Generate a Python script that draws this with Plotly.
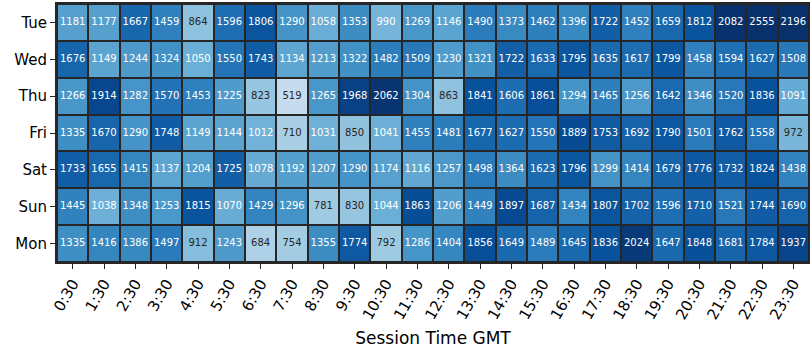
import plotly.graph_objects as go

days = ["Tue", "Wed", "Thu", "Fri", "Sat", "Sun", "Mon"]
times = ["0:30", "1:30", "2:30", "3:30", "4:30", "5:30", "6:30", "7:30", "8:30", "9:30",
         "10:30", "11:30", "12:30", "13:30", "14:30", "15:30", "16:30", "17:30", "18:30",
         "19:30", "20:30", "21:30", "22:30", "23:30"]

tue = [1181, 1177, 1667, 1459, 864, 1596, 1806, 1290, 1058, 1353, 990, 1269, 1146, 1490, 1373, 1462, 1396, 1722, 1452, 1659, 1812, 2082, 2555, 2196]
wed = [1676, 1149, 1244, 1324, 1050, 1550, 1743, 1134, 1213, 1322, 1482, 1509, 1230, 1321, 1722, 1633, 1795, 1635, 1617, 1799, 1458, 1594, 1627, 1508]
thu = [1266, 1914, 1282, 1570, 1453, 1225, 823, 519, 1265, 1968, 2062, 1304, 863, 1841, 1606, 1861, 1294, 1465, 1256, 1642, 1346, 1520, 1836, 1091]
fri = [1335, 1670, 1290, 1748, 1149, 1144, 1012, 710, 1031, 850, 1041, 1455, 1481, 1677, 1627, 1550, 1889, 1753, 1692, 1790, 1501, 1762, 1558, 972]
sat = [1733, 1655, 1415, 1137, 1204, 1725, 1078, 1192, 1207, 1290, 1174, 1116, 1257, 1498, 1364, 1623, 1796, 1299, 1414, 1679, 1776, 1732, 1824, 1438]
sun = [1445, 1038, 1348, 1253, 1815, 1070, 1429, 1296, 781, 830, 1044, 1863, 1206, 1449, 1897, 1687, 1434, 1807, 1702, 1596, 1710, 1521, 1744, 1690]
mon = [1335, 1416, 1386, 1497, 912, 1243, 684, 754, 1355, 1774, 792, 1286, 1404, 1856, 1649, 1489, 1645, 1836, 2024, 1647, 1848, 1681, 1784, 1937]

z = [tue, wed, thu, fri, sat, sun, mon]

blues = ["#f7fbff", "#deebf7", "#c6dbef", "#9ecae1", "#6baed6",
         "#4292c6", "#2171b5", "#08519c", "#08306b"]
colorscale = [[i / 8, c] for i, c in enumerate(blues)]

fig = go.Figure()
fig.add_trace(go.Heatmap(
    z=z, x=times, y=days, colorscale=colorscale, zmin=0, zmax=2100,
    showscale=False, xgap=2, ygap=2, hoverinfo="skip",
))

tx, ty, tt, tc = [], [], [], []
for d, row in zip(days, z):
    for t, v in zip(times, row):
        tx.append(t); ty.append(d); tt.append(str(v))
        tc.append("#262626" if v < 980 else "white")

fig.add_trace(go.Scatter(
    x=tx, y=ty, text=tt, mode="text",
    textfont=dict(family="DejaVu Sans", size=10, color=tc),
    hoverinfo="skip", showlegend=False,
))

fig.update_layout(
    width=810, height=360,
    margin=dict(l=57, r=1, t=4, b=98, autoexpand=False),
    paper_bgcolor="white", plot_bgcolor="#262626",
    font=dict(family="DejaVu Sans", color="black"),
    showlegend=False,
)
fig.update_xaxes(
    type="category", range=[-0.5, 23.5], tickangle=-60, tickfont=dict(size=15),
    ticks="outside", ticklen=5, tickcolor="#222222", automargin=False,
    title=dict(text="Session Time GMT", font=dict(size=17), standoff=10),
    showgrid=False, zeroline=False,
    showline=True, mirror=True, linecolor="#262626", linewidth=2,
)
fig.update_yaxes(
    type="category", range=[6.5, -0.5], tickfont=dict(size=15),
    ticks="outside", ticklen=5, tickcolor="#222222", automargin=False,
    showgrid=False, zeroline=False,
    showline=True, mirror=True, linecolor="#262626", linewidth=2,
)

fig.write_html(
    "out.html",
    config={"displayModeBar": False},
    post_script="document.body.style.margin='0';document.body.style.overflow='hidden';",
)
